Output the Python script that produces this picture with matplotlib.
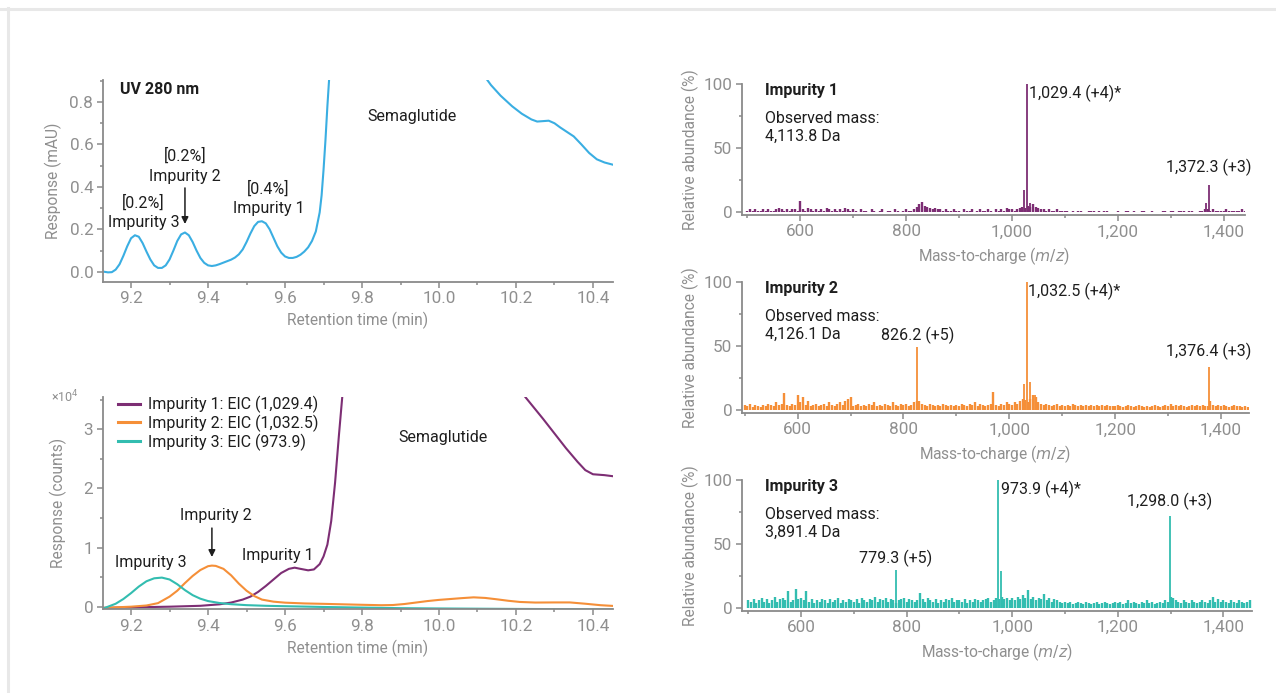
import numpy as np
import matplotlib
matplotlib.use("Agg")
import matplotlib.pyplot as plt
from matplotlib.lines import Line2D
from matplotlib.ticker import MultipleLocator, FuncFormatter

plt.rcParams["font.family"] = ["Roboto", "DejaVu Sans"]

# colours
UV_BLUE = "#3aaee2"
PURPLE = "#7d2e74"
ORANGE = "#f58f38"
TEAL = "#33bdb0"
TICK_GREY = "#8f8f8f"
SPINE_GREY = "#8a8a8a"
TEXT = "#1e1e1e"
FS = 11.5        # annotation text
FS_TICK = 12.3   # tick labels
FS_LABEL = 11.2  # axis labels

# ---- UV 280 nm trace (retention time, mAU) ----
uv_time = [9.13, 9.14, 9.15, 9.16, 9.17, 9.18, 9.19, 9.20, 9.21, 9.22,
           9.23, 9.24, 9.25, 9.26, 9.27, 9.28, 9.29, 9.30, 9.31, 9.32,
           9.33, 9.34, 9.35, 9.36, 9.37, 9.38, 9.39, 9.40, 9.41, 9.42,
           9.43, 9.44, 9.45, 9.46, 9.47, 9.48, 9.49, 9.50, 9.51, 9.52,
           9.53, 9.54, 9.55, 9.56, 9.57, 9.58, 9.59, 9.60, 9.61, 9.62,
           9.63, 9.64, 9.65, 9.66, 9.67, 9.68, 9.69, 9.695, 9.70, 9.705,
           9.71, 9.716]
uv_resp = [0.0, -0.003, -0.002, 0.01, 0.035, 0.075, 0.12, 0.158, 0.172, 0.165,
           0.135, 0.095, 0.058, 0.03, 0.018, 0.018, 0.03, 0.058, 0.10, 0.145,
           0.176, 0.185, 0.172, 0.14, 0.10, 0.065, 0.042, 0.03, 0.027, 0.03,
           0.036, 0.043, 0.05, 0.057, 0.067, 0.082, 0.105, 0.14, 0.18, 0.215,
           0.235, 0.238, 0.228, 0.20, 0.16, 0.12, 0.09, 0.072, 0.065, 0.065,
           0.07, 0.08, 0.095, 0.115, 0.145, 0.19, 0.28, 0.36, 0.48, 0.62,
           0.78, 0.95]
uv_tail_time = [10.115, 10.135, 10.16, 10.19, 10.215, 10.24, 10.255, 10.27, 10.285,
                10.30, 10.315, 10.33, 10.35, 10.37, 10.39, 10.41, 10.43, 10.455]
uv_tail_resp = [0.93, 0.88, 0.83, 0.78, 0.745, 0.718, 0.708, 0.71, 0.712,
                0.70, 0.68, 0.662, 0.638, 0.60, 0.56, 0.53, 0.515, 0.503]

# ---- EIC traces (retention time, counts x1e4) ----
eic3_time = [9.128, 9.14, 9.16, 9.18, 9.20, 9.22, 9.24, 9.26, 9.28, 9.30,
             9.32, 9.34, 9.36, 9.38, 9.40, 9.43, 9.46, 9.50, 9.55, 9.60,
             9.70, 9.80, 9.90, 10.0, 10.2, 10.46]
eic3_resp = [-0.03, 0.0, 0.05, 0.13, 0.23, 0.34, 0.43, 0.48, 0.492, 0.46,
             0.38, 0.28, 0.195, 0.135, 0.095, 0.062, 0.042, 0.026, 0.015, 0.008,
             -0.005, -0.015, -0.025, -0.03, -0.038, -0.045]

eic2_time = [9.128, 9.20, 9.24, 9.27, 9.30, 9.32, 9.34, 9.36, 9.38, 9.40,
             9.41, 9.42, 9.44, 9.46, 9.48, 9.50, 9.52, 9.54, 9.57, 9.60,
             9.65, 9.70, 9.75, 9.80, 9.85, 9.88, 9.91, 9.94, 9.97, 10.0,
             10.03, 10.06, 10.09, 10.12, 10.15, 10.18, 10.21, 10.25, 10.30, 10.34,
             10.38, 10.42, 10.46]
eic2_resp = [-0.02, 0.0, 0.02, 0.06, 0.17, 0.27, 0.40, 0.52, 0.62, 0.685,
             0.695, 0.69, 0.64, 0.53, 0.39, 0.27, 0.18, 0.12, 0.085, 0.068,
             0.055, 0.048, 0.04, 0.032, 0.025, 0.028, 0.045, 0.07, 0.095, 0.115,
             0.13, 0.145, 0.158, 0.148, 0.125, 0.10, 0.08, 0.07, 0.072, 0.072,
             0.05, 0.025, 0.01]

eic1_time = [9.128, 9.20, 9.30, 9.38, 9.43, 9.46, 9.49, 9.51, 9.53, 9.55,
             9.57, 9.59, 9.61, 9.625, 9.64, 9.66, 9.675, 9.69, 9.70, 9.71,
             9.72, 9.73, 9.74, 9.75]
eic1_resp = [-0.02, -0.012, 0.0, 0.015, 0.04, 0.07, 0.12, 0.17, 0.25, 0.35,
             0.46, 0.57, 0.64, 0.66, 0.64, 0.615, 0.63, 0.72, 0.85, 1.05,
             1.45, 2.1, 2.9, 3.65]
eic1_tail_time = [10.215, 10.24, 10.27, 10.30, 10.33, 10.36, 10.38, 10.40, 10.43, 10.46]
eic1_tail_resp = [3.62, 3.42, 3.18, 2.93, 2.68, 2.45, 2.31, 2.24, 2.225, 2.2]

# ---- MS spectra: baseline sticks every 5 m/z from 500, plus labelled peaks ----
noise1 = [1, 2, 1, 2, 1, 1, 2, 1, 2, 1, 1, 2, 3, 2, 1, 2, 1, 2, 2, 1,
          9, 2, 1, 3, 2, 1, 2, 1, 2, 1, 3, 2, 1, 2, 1, 2, 1, 3, 2, 1,
          2, 1, 0, 2, 1, 1, 0, 2, 1, 0, 1, 2, 0, 1, 1, 0, 2, 1, 0, 1,
          2, 1, 1, 2, 4, 6, 8, 5, 4, 3, 2, 3, 2, 2, 1, 2, 1, 1, 2, 1,
          1, 0, 2, 1, 1, 2, 0, 1, 2, 1, 1, 2, 1, 0, 2, 1, 2, 1, 3, 2,
          2, 1, 2, 3, 4, 3, 5, 4, 6, 4, 3, 2, 2, 1, 2, 1, 1, 2, 1, 1,
          1, 1, 0, 1, 0, 1, 1, 0, 0, 1, 1, 1, 0, 1, 0, 1, 1, 0, 0, 0,
          1, 0, 0, 1, 1, 0, 1, 0, 0, 1, 1, 0, 0, 1, 0, 0, 0, 1, 1, 0,
          1, 1, 0, 1, 1, 1, 0, 1, 1, 0, 0, 1, 1, 2, 2, 1, 2, 1, 1, 1,
          1, 2, 1, 1, 1, 1, 1, 2, 1]
peaks1_mz = [1023.5, 1029.4, 1035.0, 1366.0, 1372.3]
peaks1_int = [17, 100, 7, 7, 21]

noise2 = [4, 3, 5, 2, 4, 3, 2, 4, 3, 5, 4, 3, 6, 4, 5, 13, 4, 3, 5, 4,
          12, 6, 10, 4, 7, 3, 4, 5, 3, 4, 5, 3, 6, 4, 3, 5, 6, 4, 7, 9,
          10, 3, 4, 5, 3, 4, 3, 5, 4, 6, 3, 4, 3, 5, 4, 3, 6, 4, 3, 5,
          4, 5, 3, 4, 6, 7, 7, 5, 4, 3, 5, 4, 3, 4, 3, 5, 4, 3, 4, 3,
          4, 3, 5, 4, 3, 5, 4, 6, 3, 5, 4, 3, 4, 5, 14, 4, 3, 5, 4, 6,
          5, 4, 6, 5, 7, 9, 8, 6, 9, 12, 10, 6, 5, 4, 5, 4, 3, 4, 5, 3,
          4, 3, 4, 3, 5, 4, 3, 4, 3, 4, 3, 4, 3, 4, 3, 4, 3, 4, 3, 3,
          3, 4, 3, 2, 3, 4, 3, 2, 3, 4, 3, 2, 3, 2, 3, 4, 3, 2, 3, 4,
          3, 5, 3, 4, 3, 4, 3, 2, 3, 4, 3, 4, 3, 4, 3, 3, 7, 4, 3, 4,
          3, 4, 3, 2, 3, 4, 3, 3, 2, 3, 2]
peaks2_mz = [826.2, 1028.0, 1032.5, 1039.0, 1049.0, 1376.4]
peaks2_int = [49, 20, 100, 22, 12, 34]

noise3 = [6, 5, 7, 4, 6, 8, 5, 7, 4, 6, 9, 5, 7, 8, 6, 13, 5, 6, 15, 7,
          8, 6, 13, 5, 7, 4, 6, 5, 7, 6, 4, 7, 5, 6, 8, 4, 6, 5, 7, 6,
          5, 7, 4, 8, 6, 5, 7, 6, 9, 5, 7, 6, 8, 5, 7, 6, 4, 6, 7, 8,
          5, 7, 6, 5, 6, 12, 7, 5, 8, 6, 5, 7, 4, 6, 5, 7, 6, 8, 5, 6,
          6, 5, 7, 4, 6, 5, 7, 6, 5, 6, 7, 8, 5, 6, 8, 7, 9, 7, 8, 6,
          8, 6, 9, 7, 10, 8, 14, 7, 9, 6, 8, 7, 11, 6, 8, 5, 7, 6, 5, 4,
          5, 4, 5, 3, 4, 5, 4, 3, 5, 4, 3, 4, 5, 3, 4, 5, 4, 3, 4, 5,
          4, 5, 3, 4, 6, 4, 5, 4, 3, 5, 4, 6, 4, 5, 3, 4, 5, 4, 6, 5,
          9, 8, 6, 5, 4, 6, 5, 4, 6, 5, 4, 5, 6, 5, 4, 6, 9, 5, 7, 5,
          6, 5, 4, 6, 5, 4, 6, 5, 4, 5, 6]
peaks3_mz = [779.3, 973.9, 979.0, 1298.0]
peaks3_int = [30, 100, 29, 72]


def style_axes(ax):
    for side in ("top", "right"):
        ax.spines[side].set_visible(False)
    for side in ("left", "bottom"):
        ax.spines[side].set_color(SPINE_GREY)
        ax.spines[side].set_linewidth(1.3)
    ax.tick_params(which="both", colors=SPINE_GREY, labelcolor=TICK_GREY,
                   labelsize=FS_TICK, width=1.1, pad=3)
    ax.tick_params(which="major", length=4)
    ax.tick_params(which="minor", length=2.5)


def label(ax, x, y, s, **kw):
    ax.text(x, y, s, fontsize=FS, color=TEXT, ha=kw.pop("ha", "center"),
            va="center", **kw)


fig = plt.figure(figsize=(12.76, 6.93), dpi=100)

# light frame lines along the top and left edges
fig.add_artist(Line2D([0, 1], [0.9875, 0.9875], color="#e8e8e8", lw=2.2))
fig.add_artist(Line2D([0.0066, 0.0066], [0, 0.989], color="#e8e8e8", lw=2.2))

# ---- top left: UV chromatogram ----
ax_uv = fig.add_axes([0.0807, 0.5935, 0.3997, 0.2911])
style_axes(ax_uv)
ax_uv.plot(uv_time, uv_resp, color=UV_BLUE, lw=1.5)
ax_uv.plot(uv_tail_time, uv_tail_resp, color=UV_BLUE, lw=1.5)
ax_uv.set_xlim(9.127, 10.452)
ax_uv.set_ylim(-0.047, 0.904)
ax_uv.xaxis.set_major_locator(MultipleLocator(0.2))
ax_uv.xaxis.set_minor_locator(MultipleLocator(0.1))
ax_uv.yaxis.set_major_locator(MultipleLocator(0.2))
ax_uv.yaxis.set_minor_locator(MultipleLocator(0.1))
ax_uv.xaxis.set_major_formatter(FuncFormatter(lambda v, p: f"{v:.1f}"))
ax_uv.yaxis.set_major_formatter(FuncFormatter(lambda v, p: f"{v:.1f}"))
ax_uv.set_xlabel("Retention time (min)", color=TICK_GREY, fontsize=FS_LABEL, labelpad=4)
ax_uv.set_ylabel("Response (mAU)", color=TICK_GREY, fontsize=FS_LABEL, labelpad=5)
label(ax_uv, 9.17, 0.86, "UV 280 nm", ha="left", fontweight="bold")
label(ax_uv, 9.93, 0.73, "Semaglutide")
label(ax_uv, 9.232, 0.325, "[0.2%]")
label(ax_uv, 9.232, 0.232, "Impurity 3")
label(ax_uv, 9.34, 0.548, "[0.2%]")
label(ax_uv, 9.34, 0.45, "Impurity 2")
ax_uv.annotate("", xy=(9.34, 0.225), xytext=(9.34, 0.395),
               arrowprops=dict(arrowstyle="-|>", color=TEXT, lw=1.1,
                               mutation_scale=10, shrinkA=0, shrinkB=0))
label(ax_uv, 9.557, 0.39, "[0.4%]")
label(ax_uv, 9.557, 0.30, "Impurity 1")

# ---- bottom left: EICs ----
ax_eic = fig.add_axes([0.0807, 0.1208, 0.3997, 0.3066])
style_axes(ax_eic)
ax_eic.plot(eic1_time, eic1_resp, color=PURPLE, lw=1.5, label="Impurity 1: EIC (1,029.4)")
ax_eic.plot(eic1_tail_time, eic1_tail_resp, color=PURPLE, lw=1.5)
ax_eic.plot(eic2_time, eic2_resp, color=ORANGE, lw=1.5, label="Impurity 2: EIC (1,032.5)")
ax_eic.plot(eic3_time, eic3_resp, color=TEAL, lw=1.5, label="Impurity 3: EIC (973.9)")
ax_eic.set_xlim(9.127, 10.452)
ax_eic.set_ylim(-0.044, 3.55)
ax_eic.xaxis.set_major_locator(MultipleLocator(0.2))
ax_eic.xaxis.set_minor_locator(MultipleLocator(0.1))
ax_eic.yaxis.set_major_locator(MultipleLocator(1))
ax_eic.yaxis.set_minor_locator(MultipleLocator(0.5))
ax_eic.xaxis.set_major_formatter(FuncFormatter(lambda v, p: f"{v:.1f}"))
ax_eic.set_xlabel("Retention time (min)", color=TICK_GREY, fontsize=FS_LABEL, labelpad=4)
ax_eic.set_ylabel("Response (counts)", color=TICK_GREY, fontsize=FS_LABEL, labelpad=12)
ax_eic.text(-0.075, 1.0, "×10$^4$", transform=ax_eic.transAxes, fontsize=9,
            color=TICK_GREY, ha="center", va="center")
leg = ax_eic.legend(loc="upper left", bbox_to_anchor=(0.01, 1.05), frameon=False,
                    fontsize=FS, handlelength=1.4, handletextpad=0.5,
                    labelspacing=0.1, borderaxespad=0.2)
for t in leg.get_texts():
    t.set_color(TEXT)
for h in leg.legend_handles:
    h.set_linewidth(2.2)
label(ax_eic, 10.01, 2.87, "Semaglutide")
label(ax_eic, 9.252, 0.75, "Impurity 3")
label(ax_eic, 9.42, 1.54, "Impurity 2")
ax_eic.annotate("", xy=(9.41, 0.84), xytext=(9.41, 1.33),
                arrowprops=dict(arrowstyle="-|>", color=TEXT, lw=1.1,
                                mutation_scale=10, shrinkA=0, shrinkB=0))
label(ax_eic, 9.58, 0.86, "Impurity 1")

# ---- right: MS spectra ----
panels = [
    dict(noise=noise1, mz=peaks1_mz, inten=peaks1_int, color=PURPLE, xlim=(490, 1440),
         rect=[0.5815, 0.6903, 0.394, 0.1885], title="Impurity 1",
         mass="Observed mass:\n4,113.8 Da",
         labels=[(1033, 93, "1,029.4 (+4)*", "left"), (1372.3, 35, "1,372.3 (+3)", "center")]),
    dict(noise=noise2, mz=peaks2_mz, inten=peaks2_int, color=ORANGE, xlim=(495, 1452),
         rect=[0.5815, 0.4046, 0.397, 0.1885], title="Impurity 2",
         mass="Observed mass:\n4,126.1 Da",
         labels=[(826.2, 58, "826.2 (+5)", "center"), (1036, 93, "1,032.5 (+4)*", "left"),
                 (1376.4, 46, "1,376.4 (+3)", "center")]),
    dict(noise=noise3, mz=peaks3_mz, inten=peaks3_int, color=TEAL, xlim=(488, 1455),
         rect=[0.5815, 0.1189, 0.40, 0.1885], title="Impurity 3",
         mass="Observed mass:\n3,891.4 Da",
         labels=[(779.3, 39, "779.3 (+5)", "center"), (978, 93, "973.9 (+4)*", "left"),
                 (1298.0, 83, "1,298.0 (+3)", "center")]),
]

for p in panels:
    ax = fig.add_axes(p["rect"])
    style_axes(ax)
    noise_mz = 500 + 5 * np.arange(len(p["noise"]))
    ax.vlines(noise_mz, 0, p["noise"], color=p["color"], lw=1.7)
    ax.vlines(p["mz"], 0, p["inten"], color=p["color"], lw=1.3)
    ax.set_xlim(*p["xlim"])
    ax.set_ylim(-2, 100)
    ax.xaxis.set_major_locator(MultipleLocator(200))
    ax.xaxis.set_minor_locator(MultipleLocator(100))
    ax.yaxis.set_major_locator(MultipleLocator(50))
    ax.yaxis.set_minor_locator(MultipleLocator(25))
    ax.xaxis.set_major_formatter(FuncFormatter(lambda v, pos: f"{v:,.0f}"))
    ax.set_xlabel("Mass-to-charge ($\\it{m/z}$)", color=TICK_GREY, fontsize=FS_LABEL, labelpad=4)
    ax.set_ylabel("Relative abundance (%)", color=TICK_GREY, fontsize=FS_LABEL, labelpad=3)
    ax.text(0.045, 0.95, p["title"], transform=ax.transAxes, fontsize=FS,
            fontweight="bold", color=TEXT, va="center")
    ax.text(0.045, 0.79, p["mass"], transform=ax.transAxes, fontsize=FS,
            color=TEXT, va="top", linespacing=1.2)
    for x, y, s, ha in p["labels"]:
        label(ax, x, y, s, ha=ha)

fig.savefig("out.png", dpi=100)
